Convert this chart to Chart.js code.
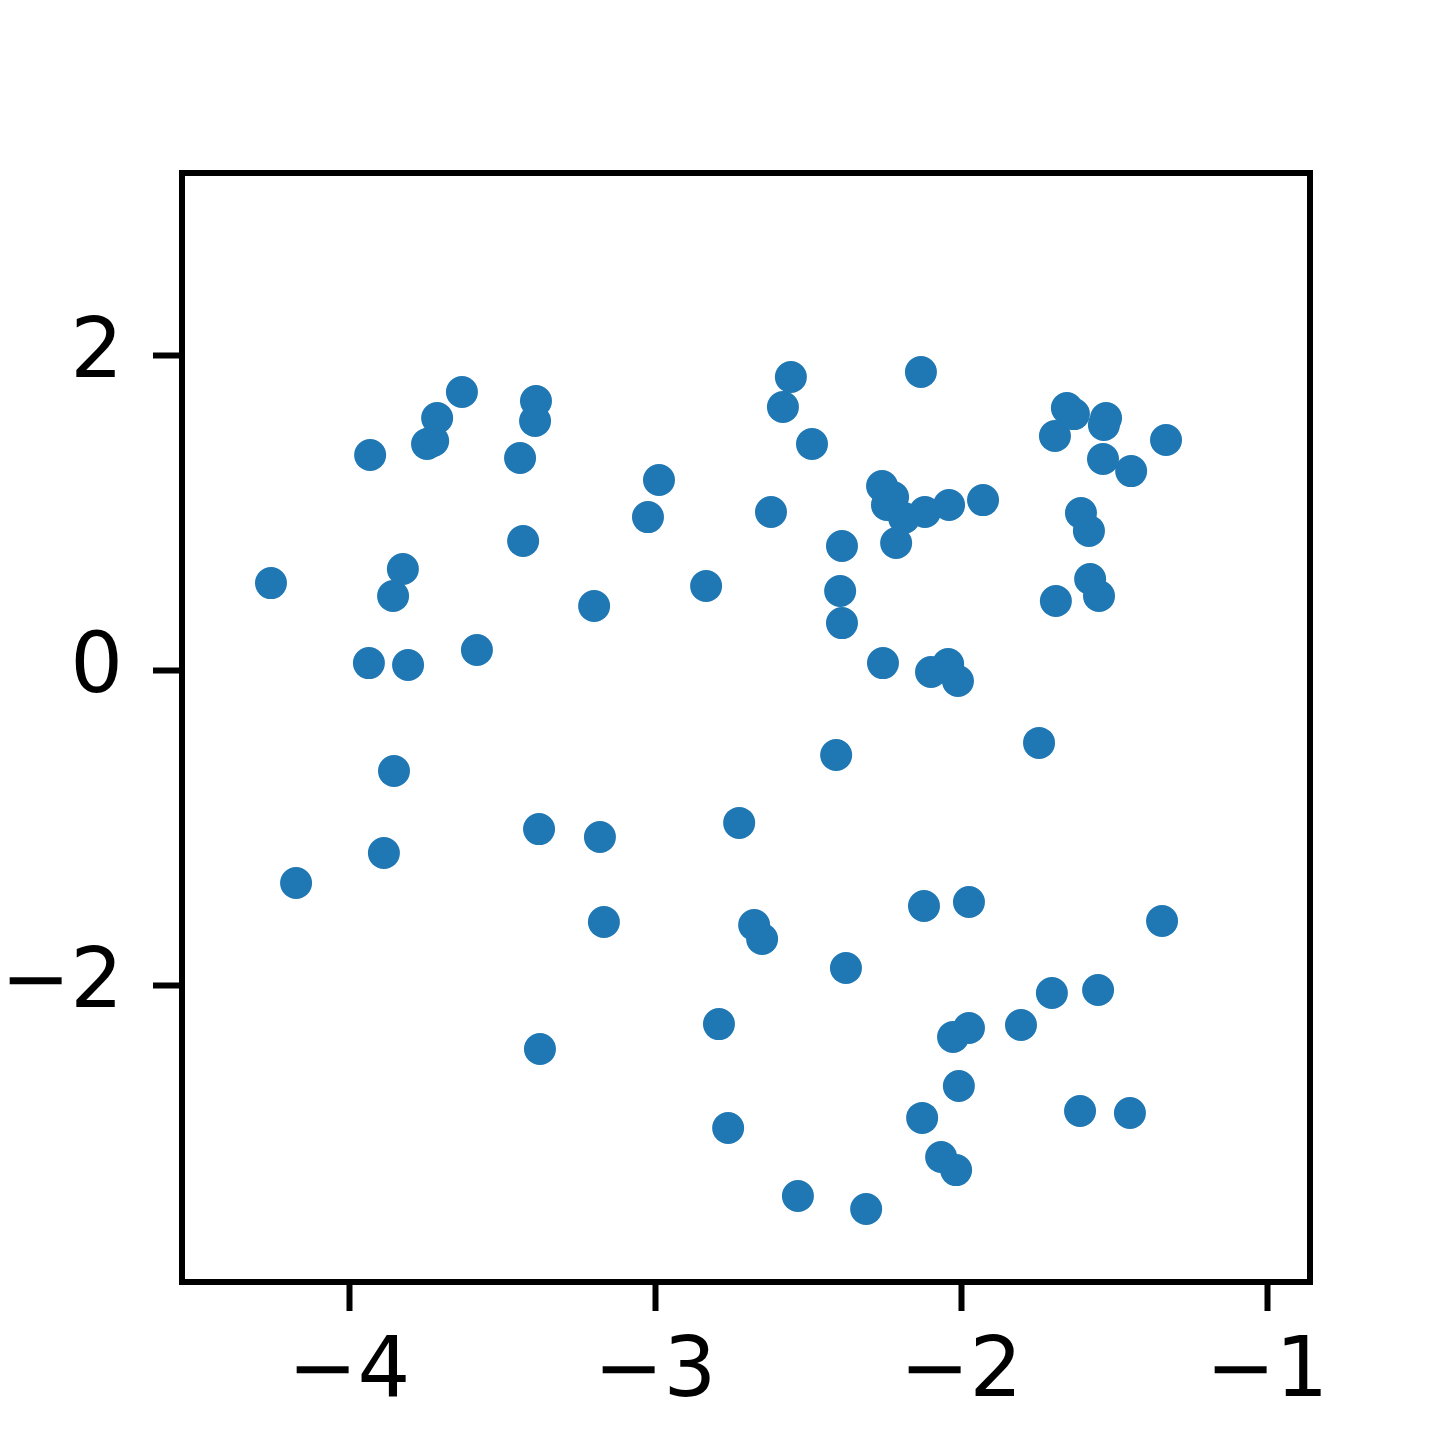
<!DOCTYPE html>
<html>
<head>
<meta charset="utf-8">
<script src="https://cdn.jsdelivr.net/npm/chart.js@4/dist/chart.umd.min.js"></script>
<style>
html,body{margin:0;padding:0;background:#fff;}
canvas{display:block;}
</style>
</head>
<body>
<canvas id="c" width="1454" height="1440"></canvas>
<script>
const xValues = [
 -4.255,-4.173,-3.931,-3.935,-3.856,-3.824,-3.807,-3.853,-3.886,-3.745,
 -3.725,-3.712,-3.631,-3.582,-3.441,-3.431,-3.389,-3.392,-3.379,-3.376,
 -3.199,-3.180,-3.167,-3.023,-2.987,-2.833,-2.791,-2.761,-2.725,-2.676,
 -2.650,-2.621,-2.582,-2.556,-2.533,-2.487,-2.408,-2.395,-2.389,-2.389,
 -2.376,-2.310,-2.258,-2.255,-2.242,-2.222,-2.212,-2.186,-2.131,-2.121,
 -2.127,-2.118,-2.098,-2.042,-2.039,-2.065,-2.026,-2.016,-2.010,-2.007,
 -1.974,-1.974,-1.928,-1.804,-1.745,-1.703,-1.693,-1.690,-1.654,-1.631,
 -1.611,-1.608,-1.582,-1.578,-1.552,-1.549,-1.536,-1.526,-1.533,-1.444,
 -1.448,-1.343,-1.330
];
const yValues = [
  0.552,-1.352, 1.365, 0.044, 0.470, 0.641, 0.032,-0.641,-1.162, 1.435,
  1.454, 1.600, 1.765, 0.127, 1.346, 0.819, 1.708, 1.581,-1.010,-2.406,
  0.406,-1.060,-1.600, 0.971, 1.206, 0.533,-2.248,-2.908,-0.971,-1.619,
 -1.708, 1.003, 1.670, 1.860,-3.340, 1.435,-0.540, 0.502, 0.298, 0.787,
 -1.892,-3.422, 1.168, 0.044, 1.048, 1.098, 0.806, 0.965, 1.892,-1.498,
 -2.844, 1.003,-0.013, 0.038, 1.048,-3.092,-2.330,-3.175,-0.070,-2.641,
 -2.273,-1.473, 1.079,-2.254,-0.463,-2.051, 1.486, 0.438, 1.663, 1.625,
 -2.800, 0.997, 0.883, 0.578,-2.032, 0.470, 1.340, 1.600, 1.556, 1.263,
 -2.813,-1.594, 1.460
];
const xTicks = [-4, -3, -2, -1];
const yTicks = [-2, 0, 2];
const xRange = [-4.5458, -0.8595];
const yRange = [-3.8857, 3.1556];

const fmt = v => (v < 0 ? '\u2212' + Math.abs(v) : String(v));
const points = xValues.map((x, i) => ({x: x, y: yValues[i]}));

const framePlugin = {
  id: 'frame',
  afterDraw(chart) {
    const a = chart.chartArea, ctx = chart.ctx;
    ctx.save();
    ctx.strokeStyle = '#000';
    ctx.lineWidth = 6;
    ctx.lineJoin = 'miter';
    ctx.strokeRect(a.left, a.top, a.right - a.left, a.bottom - a.top);
    ctx.restore();
  }
};

const tickFont = {family: 'DejaVu Sans', size: 83};

new Chart(document.getElementById('c'), {
  type: 'scatter',
  data: {
    datasets: [{
      data: points,
      backgroundColor: '#1f77b4',
      borderColor: '#1f77b4',
      borderWidth: 0,
      pointRadius: 16,
      pointHoverRadius: 16
    }]
  },
  options: {
    responsive: false,
    animation: false,
    devicePixelRatio: 1,
    layout: {padding: {left: 0, right: 144, top: 173, bottom: 0}},
    plugins: {legend: {display: false}, tooltip: {enabled: false}},
    scales: {
      x: {
        type: 'linear',
        min: xRange[0], max: xRange[1],
        afterBuildTicks: s => { s.ticks = xTicks.map(v => ({value: v})); },
        afterFit: s => { s.height = 158; },
        grid: {display: true, drawOnChartArea: false, drawTicks: true, tickLength: 29, tickWidth: 6, tickColor: '#000'},
        border: {display: false},
        ticks: {color: '#000', font: tickFont, padding: 14, maxRotation: 0, callback: v => fmt(v)}
      },
      y: {
        type: 'linear',
        min: yRange[0], max: yRange[1],
        afterBuildTicks: s => { s.ticks = yTicks.map(v => ({value: v})); },
        afterFit: s => { s.width = 182; },
        grid: {display: true, drawOnChartArea: false, drawTicks: true, tickLength: 29, tickWidth: 6, tickColor: '#000'},
        border: {display: false},
        ticks: {color: '#000', font: tickFont, padding: 30, callback: v => fmt(v)}
      }
    }
  },
  plugins: [framePlugin]
});
</script>
</body>
</html>
